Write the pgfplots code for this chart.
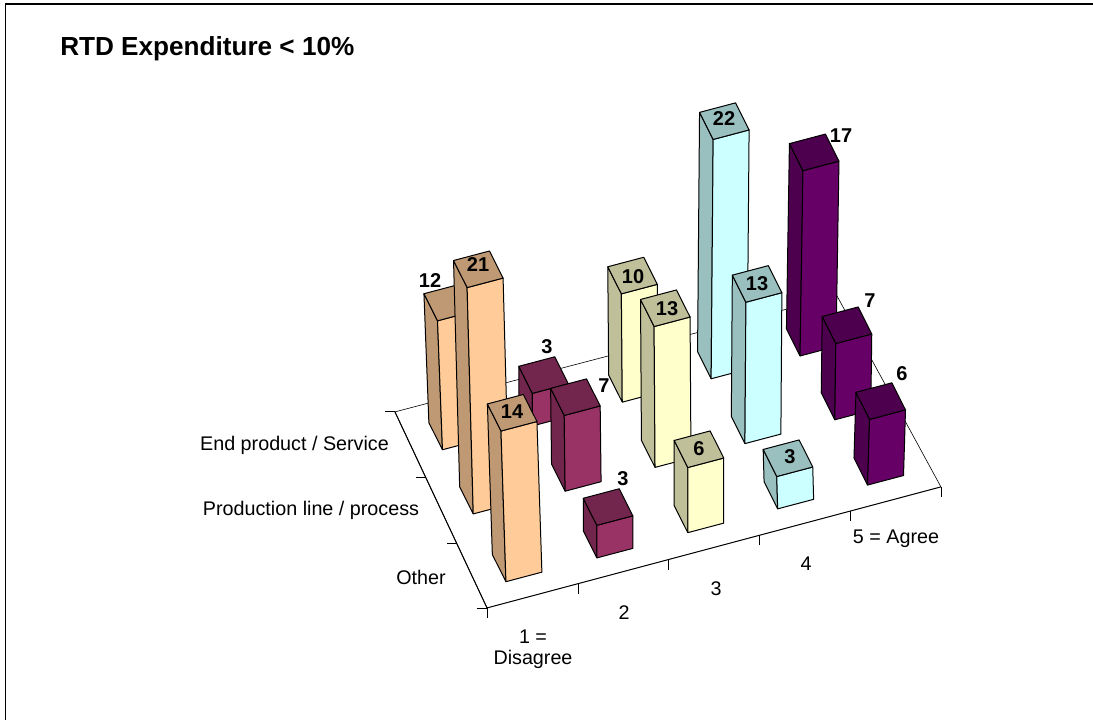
\documentclass[border=0pt]{standalone}
\usepackage{pgfplots}
\pgfplotsset{compat=1.18}
\usepackage{fontspec}
\setmainfont{Liberation Sans}

% Excel palette, with the 75% shade for the side and top faces
\definecolor{orangeF}{RGB}{255,204,153}
\definecolor{orangeS}{RGB}{191,153,115}
\definecolor{roseF}{RGB}{153,51,102}
\definecolor{roseS}{RGB}{115,38,77}
\definecolor{yellowF}{RGB}{255,255,204}
\definecolor{yellowS}{RGB}{191,191,153}
\definecolor{cyanF}{RGB}{204,255,255}
\definecolor{cyanS}{RGB}{153,191,191}
\definecolor{plumF}{RGB}{102,0,102}
\definecolor{plumS}{RGB}{77,0,77}

% \cube{category}{row}{value}{face}{shade}{lean of the top, in x units}
\newcommand{\cube}[6]{%
  \pgfmathsetmacro{\xa}{#1-0.2}%
  \pgfmathsetmacro{\xb}{#1+0.2}%
  \pgfmathsetmacro{\ya}{#2-0.2075}%
  \pgfmathsetmacro{\yb}{#2+0.2075}%
  \pgfmathsetmacro{\xat}{\xa+#6}%
  \pgfmathsetmacro{\xbt}{\xb+#6}%
  \addplot3[fill=#5,draw=black,line width=0.75pt,line join=round] coordinates {
    (\xa,\ya,0)(\xa,\yb,0)(\xat,\yb,#3)(\xat,\ya,#3)(\xa,\ya,0)};
  \addplot3[fill=#4,draw=black,line width=0.75pt,line join=round] coordinates {
    (\xa,\yb,0)(\xb,\yb,0)(\xbt,\yb,#3)(\xat,\yb,#3)(\xa,\yb,0)};
  \addplot3[fill=#5,draw=black,line width=0.75pt,line join=round] coordinates {
    (\xat,\yb,#3)(\xbt,\yb,#3)(\xbt,\ya,#3)(\xat,\ya,#3)(\xat,\yb,#3)};
}
\newcommand{\lab}[3]{\node[font=\fontsize{15}{17}\selectfont\bfseries,inner sep=0pt] at ({#1*0.75pt},{-#2*0.75pt}) {#3};}
\newcommand{\txt}[3]{\node[font=\fontsize{14.8}{17}\selectfont,inner sep=0pt] at ({#1*0.75pt},{-(#2+1.5)*0.75pt}) {#3};}

\begin{document}
\begin{tikzpicture}
\path[use as bounding box] (0,0) rectangle (819.75pt,-540pt);
\draw[line width=0.8pt] (4.2pt,-540pt) -- (4.2pt,-3pt) -- (819.75pt,-3pt);

\begin{axis}[
  at={(248.25pt,-292.5pt)}, anchor=origin,
  disabledatascaling,
  x={(67.425pt,17.85pt)},
  y={(24.5625pt,-48.9375pt)},
  z={(0pt,8.14pt)},
  xmin=0, xmax=6, ymin=0, ymax=4, zmin=0, zmax=25,
  hide axis, clip=false,
]
% floor
\addplot3[draw=black,line width=0.45pt] coordinates {(0.458,3.507,0)(0.52,0.525,0)(5.432,0.54,0)(5.511,3.495,0)};
\addplot3[draw=black,line width=0.75pt] coordinates {(0.52,0.525,0)(0.458,3.507,0)(5.511,3.495,0)};
% ticks
\draw[line width=0.6pt] (axis cs:0.52,0.525,0) -- ++(-7.5pt,0pt);
\draw[line width=0.6pt] (axis cs:0.50,1.52,0) -- ++(-7.5pt,0pt);
\draw[line width=0.6pt] (axis cs:0.48,2.52,0) -- ++(-7.5pt,0pt);
\draw[line width=0.6pt] (axis cs:0.458,3.507,0) -- ++(-7.5pt,0pt);
\draw[line width=0.6pt] (axis cs:0.458,3.507,0) -- ++(0pt,-7.5pt);
\draw[line width=0.6pt] (axis cs:1.47,3.505,0) -- ++(0pt,-7.5pt);
\draw[line width=0.6pt] (axis cs:2.48,3.503,0) -- ++(0pt,-7.5pt);
\draw[line width=0.6pt] (axis cs:3.49,3.500,0) -- ++(0pt,-7.5pt);
\draw[line width=0.6pt] (axis cs:4.50,3.498,0) -- ++(0pt,-7.5pt);
\draw[line width=0.6pt] (axis cs:5.511,3.495,0) -- ++(0pt,-7.5pt);

% End product / Service (back row)
\cube{1}{1}{12}{orangeF}{orangeS}{-0.055}
\cube{2}{1}{3}{roseF}{roseS}{0}
\cube{3}{1}{10}{yellowF}{yellowS}{-0.01}
\cube{3.988}{1.002}{22}{cyanF}{cyanS}{0.022}
\cube{4.973}{1.012}{17}{plumF}{plumS}{0.033}
% Production line / process
\cube{0.986}{1.978}{21}{orangeF}{orangeS}{-0.068}
\cube{2}{2}{7}{roseF}{roseS}{-0.01}
\cube{3}{2}{13}{yellowF}{yellowS}{-0.01}
\cube{4}{2}{13}{cyanF}{cyanS}{0.011}
\cube{5}{2}{7}{plumF}{plumS}{0.011}
% Other (front row)
\cube{0.973}{3.012}{14}{orangeF}{orangeS}{-0.055}
\cube{1.983}{3.016}{3}{roseF}{roseS}{0}
\cube{3}{3}{6}{yellowF}{yellowS}{0}
\cube{4}{3}{3}{cyanF}{cyanS}{-0.01}
\cube{5}{3}{6}{plumF}{plumS}{0.022}
\end{axis}

\node[anchor=west,font=\fontsize{19.6}{23}\selectfont\bfseries,inner sep=0pt] at (45pt,-36.3pt) {RTD Expenditure < 10\%};

\lab{430}{281}{12}
\lab{478}{265}{21}
\lab{547}{347}{3}
\lab{512}{412}{14}
\lab{604}{386}{7}
\lab{623}{479}{3}
\lab{633}{277}{10}
\lab{667}{309}{13}
\lab{699}{449}{6}
\lab{724}{119}{22}
\lab{757}{284}{13}
\lab{790}{457}{3}
\lab{841}{136}{17}
\lab{870}{301}{7}
\lab{902}{374}{6}

\txt{294.5}{444}{End product / Service}
\txt{311}{509}{Production line / process}
\txt{421}{576}{Other}
\txt{533}{635}{1 =}
\txt{533}{658}{Disagree}
\txt{624}{611}{2}
\txt{716}{587}{3}
\txt{806}{562}{4}
\txt{896}{537}{5 = Agree}
\end{tikzpicture}
\end{document}
